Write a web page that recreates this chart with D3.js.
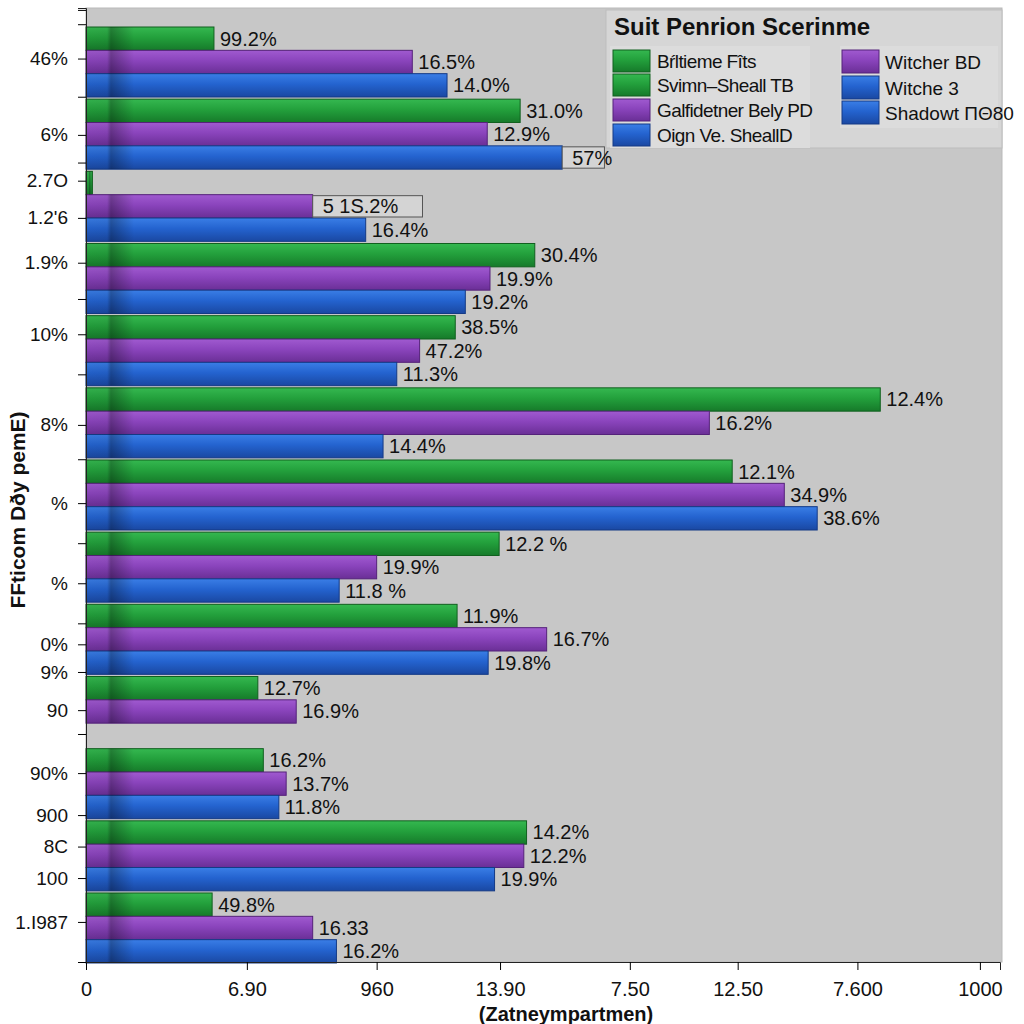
<!DOCTYPE html>
<html>
<head>
<meta charset="utf-8">
<script src="https://cdn.jsdelivr.net/npm/d3@7"></script>
<style>
html,body{margin:0;padding:0;background:#fff;}
svg{display:block;font-family:"Liberation Sans",Arial,sans-serif;}
</style>
</head>
<body>
<svg id="chart" width="1024" height="1024"></svg>
<script>
// ---------- data ----------
const groups = ["g1","g2","g3","g4","g5","g6","g7","g8","g9","g10","g11","g12","g13"];
const seriesNames = ["green","purple","blue"];
const greenValues  = [14.0, 47.5, 0.7, 49.1, 40.4, 86.9, 70.7, 45.2, 40.6, 18.8, 19.4, 48.2, 13.8];
const purpleValues = [35.7, 43.9, 24.8, 44.2, 36.5, 68.2, 76.4, 31.8, 50.4, 23.0, 21.9, 47.9, 24.8];
const blueValues   = [39.5, 52.1, 30.6, 41.5, 34.0, 32.5, 80.0, 27.7, 44.0, 0,    21.1, 44.7, 27.4];
const greenLabels  = ["99.2%","31.0%","","30.4%","38.5%","12.4%","12.1%","12.2 %","11.9%","12.7%","16.2%","14.2%","49.8%"];
const purpleLabels = ["16.5%","12.9%","5 1S.2%","19.9%","47.2%","16.2%","34.9%","19.9%","16.7%","16.9%","13.7%","12.2%","16.33"];
const blueLabels   = ["14.0%","57%","16.4%","19.2%","11.3%","14.4%","38.6%","11.8 %","19.8%","","11.8%","19.9%","16.2%"];
const boxedLabels  = ["g2-blue","g3-purple"];

const xTickValues = [0, 17.6, 31.8, 45.3, 59.5, 71.3, 84.4, 97.8];
const xTickLabels = ["0","6.90","960","13.90","7.50","12.50","7.600","1000"];
const yTickValues = [5.3, 13.3, 18.1, 22.0, 26.7, 34.2, 43.7, 51.9, 60.3, 66.7, 69.6, 73.6, 80.2, 84.6, 87.9, 91.2, 95.8,
                     0.2, 1.7, 9.3, 16.2, 30.5, 38.4, 47.3, 56.1, 64.5, 76.1, 100];
const yTickLabels = ["46%","6%","2.7O","1.2'6","1.9%","10%","8%","%","%","0%","9%","90","90%","900","8C","100","1.I987",
                     "","","","","","","","","","",""];

const legendTitle = "Suit Penrion Scerinme";
const legendLeft = [["green","Bŕltieme Fîts"],["green","Svimn–Sheall TB"],["purple","Galfidetner Bely PD"],["blue","Oign Ve. SheallD"]];
const legendRight = [["purple","Witcher BD"],["blue","Witche 3"],["blue","Shadowt ΠΘ80"]];
const xTitle = "(Zatneympartmen)";
const yTitle = "FFticom Dðy pemE)";

// ---------- layout ----------
const svg = d3.select("#chart");
const plotLeft = 86, plotRight = 1000, plotTop = 8, plotBottom = 962;
const colors = {
  green:  {top:"#35b850", mid:"#23a03c", bot:"#167a2a", stroke:"#11601f"},
  purple: {top:"#a05ad0", mid:"#8a44bc", bot:"#6a2f96", stroke:"#55227a"},
  blue:   {top:"#3a7ee6", mid:"#2463cf", bot:"#1a48a2", stroke:"#143a86"}
};
const boxPad = {"g2-blue": 2, "g3-purple": 34};

const defs = svg.append("defs");
Object.entries(colors).forEach(([k,c])=>{
  const g = defs.append("linearGradient").attr("id","grad-"+k).attr("x1",0).attr("y1",0).attr("x2",0).attr("y2",1);
  g.append("stop").attr("offset","0%").attr("stop-color",c.top);
  g.append("stop").attr("offset","45%").attr("stop-color",c.mid);
  g.append("stop").attr("offset","100%").attr("stop-color",c.bot);
});
const sh = defs.append("linearGradient").attr("id","shadow").attr("x1",0).attr("y1",0).attr("x2",1).attr("y2",0);
sh.append("stop").attr("offset","0%").attr("stop-color","#000").attr("stop-opacity",0.04);
sh.append("stop").attr("offset","44%").attr("stop-color","#000").attr("stop-opacity",0.06);
sh.append("stop").attr("offset","52%").attr("stop-color","#000").attr("stop-opacity",0.3);
sh.append("stop").attr("offset","100%").attr("stop-color","#000").attr("stop-opacity",0);

const x = d3.scaleLinear().domain([0,100]).range([plotLeft,plotRight]);
const yAxisScale = d3.scaleLinear().domain([0,100]).range([plotTop,plotBottom]);
const y0 = d3.scaleBand().domain(groups).range([27,963]).paddingInner(0.03);
const y1 = d3.scaleBand().domain(seriesNames).range([0,y0.bandwidth()]).padding(0);

// plot background
svg.append("rect").attr("x",plotLeft).attr("y",plotTop).attr("width",1002-plotLeft).attr("height",plotBottom-plotTop)
  .attr("fill","#c7c7c7").attr("stroke","#b9b9b9");

const valuesBy = {green:greenValues, purple:purpleValues, blue:blueValues};
const labelsBy = {green:greenLabels, purple:purpleLabels, blue:blueLabels};
const bars = [];
groups.forEach((g,i)=>{
  seriesNames.forEach(s=>{
    bars.push({group:g, series:s, value:valuesBy[s][i], label:labelsBy[s][i]});
  });
});

const barG = svg.append("g");
const drawn = bars.filter(d=>d.value>0);
barG.selectAll("rect.bar").data(drawn).join("rect").attr("class","bar")
  .attr("x",x(0)).attr("y",d=>y0(d.group)+y1(d.series))
  .attr("width",d=>x(d.value)-x(0)).attr("height",y1.bandwidth())
  .attr("fill",d=>"url(#grad-"+d.series+")")
  .attr("stroke",d=>colors[d.series].stroke).attr("stroke-width",1);
// left shadow strip
barG.selectAll("rect.sh").data(drawn).join("rect").attr("class","sh")
  .attr("x",x(0)).attr("y",d=>y0(d.group)+y1(d.series))
  .attr("width",d=>Math.min(x(d.value)-x(0),48)).attr("height",y1.bandwidth())
  .attr("fill","url(#shadow)");

// value labels
const lab = svg.append("g").attr("font-size",20).attr("fill","#111");
bars.filter(d=>d.label).forEach(d=>{
  const yy = y0(d.group)+y1(d.series)+y1.bandwidth()/2;
  const xx = x(d.value)+6;
  const key = d.group+"-"+d.series;
  if (boxedLabels.includes(key)) {
    const t = lab.append("text").attr("x",xx+4).attr("y",yy).attr("dy","0.35em").text(d.label);
    const bb = t.node().getBBox();
    lab.insert("rect","text").attr("x",x(d.value)).attr("y",y0(d.group)+y1(d.series)+1)
      .attr("width",bb.width+boxPad[key]).attr("height",y1.bandwidth()-2)
      .attr("fill","#d4d4d4").attr("stroke","#555").attr("stroke-width",1);
  } else {
    lab.append("text").attr("x",xx).attr("y",yy).attr("dy","0.35em").text(d.label);
  }
});

// axes
const xAxis = d3.axisBottom(x).tickValues(xTickValues).tickSize(8)
  .tickFormat((d,i)=>xTickLabels[i]);
const gx = svg.append("g").attr("transform",`translate(0,${plotBottom})`).call(xAxis);
gx.select(".domain").attr("stroke","#222");
gx.selectAll("text").attr("font-size",20).attr("fill","#111").attr("dy","1.15em")
  .attr("font-family","'Liberation Sans',Arial,sans-serif");

const yAxis = d3.axisLeft(yAxisScale).tickValues(yTickValues).tickSize(8)
  .tickFormat((d,i)=>yTickLabels[i]);
const gy = svg.append("g").attr("transform",`translate(${plotLeft},0)`).call(yAxis);
gy.select(".domain").attr("stroke","#222");
gy.selectAll("text").attr("font-size",19).attr("fill","#111").attr("x",-18)
  .attr("font-family","'Liberation Sans',Arial,sans-serif");

// titles
svg.append("text").attr("x",566).attr("y",1021).attr("text-anchor","middle")
  .attr("font-size",20).attr("font-weight","bold").attr("fill","#111").text(xTitle);
svg.append("text").attr("transform","translate(25,510) rotate(-90)").attr("text-anchor","middle")
  .attr("font-size",21).attr("font-weight","bold").attr("fill","#111").text(yTitle);

// legend
const lg = svg.append("g");
lg.append("rect").attr("x",606).attr("y",10).attr("width",396).attr("height",138)
  .attr("fill","#d6d6d6").attr("stroke","#bdbdbd");
lg.append("rect").attr("x",610).attr("y",46).attr("width",200).attr("height",102).attr("fill","#dcdcdc");
lg.append("rect").attr("x",840).attr("y",46).attr("width",158).attr("height",82).attr("fill","#dcdcdc");
lg.append("text").attr("x",614).attr("y",35).attr("font-size",24).attr("font-weight","bold")
  .attr("fill","#111").text(legendTitle);
const leftRows = [50,74,99,124];
legendLeft.forEach((d,i)=>{
  lg.append("rect").attr("x",613).attr("y",leftRows[i]).attr("width",37).attr("height",22)
    .attr("fill","url(#grad-"+d[0]+")").attr("stroke",colors[d[0]].stroke);
  lg.append("text").attr("x",657).attr("y",leftRows[i]+11).attr("dy","0.35em")
    .attr("font-size",19).attr("letter-spacing","-0.6").attr("fill","#111").text(d[1]);
});
const rightRows = [50,76,101];
legendRight.forEach((d,i)=>{
  lg.append("rect").attr("x",842).attr("y",rightRows[i]).attr("width",37).attr("height",23)
    .attr("fill","url(#grad-"+d[0]+")").attr("stroke",colors[d[0]].stroke);
  lg.append("text").attr("x",885).attr("y",rightRows[i]+12).attr("dy","0.35em")
    .attr("font-size",19).attr("fill","#111").text(d[1]);
});
</script>
</body>
</html>
